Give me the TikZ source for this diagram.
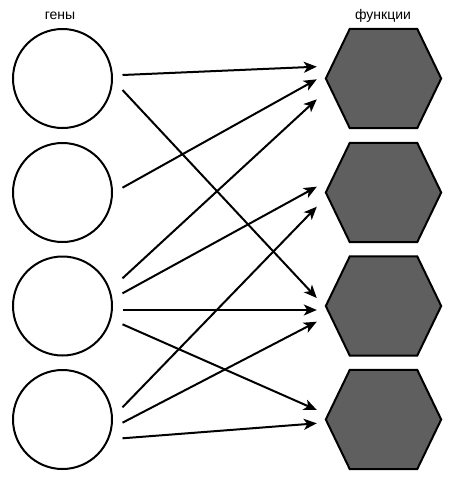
\documentclass[tikz,border=0pt]{standalone}
\usepackage{fontspec}
\setmainfont{Liberation Sans}
\usetikzlibrary{arrows.meta}
\definecolor{hexgray}{HTML}{5F5F5F}
\tikzset{
  gene/.style={circle, draw=black, line width=2pt, minimum size=99pt, inner sep=0pt, fill=white},
  hexbox/.style={rectangle, minimum width=115pt, minimum height=99pt, inner sep=0pt},
  hexshape/.style={draw=black, fill=hexgray, line width=2pt, line join=miter},
  conn/.style={line width=2pt, -{Stealth[length=13pt,width=11pt,inset=3.5pt]}},
  lbl/.style={font=\fontsize{14}{16}\selectfont, anchor=base, inner sep=0pt}
}
\begin{document}
\begin{tikzpicture}[x=1pt,y=-1pt]
\useasboundingbox (0,0) rectangle (450,480);
\node[lbl] (tg) at (60,19) {гены};
\node[lbl] (tf) at (383,19) {функции};
\node[gene] (g1) at (62.5,78.5) {};
\node[gene] (g2) at (62.5,192.5) {};
\node[gene] (g3) at (62.5,306) {};
\node[gene] (g4) at (62.5,419.5) {};
\node[hexbox] (h1) at (383.5,78.5) {};
\node[hexbox] (h2) at (383.5,192.5) {};
\node[hexbox] (h3) at (383.5,306) {};
\node[hexbox] (h4) at (383.5,419.5) {};
\foreach \h in {h1,h2,h3,h4}{
  \draw[hexshape] (\h.west) -- ([xshift=24pt]\h.north west) -- ([xshift=-24pt]\h.north east)
    -- (\h.east) -- ([xshift=-24pt]\h.south east) -- ([xshift=24pt]\h.south west) -- cycle;
}
\foreach \a/\da/\b/\db in {g1/-3.5/h1/-11.8, g1/11.5/h3/-8, g2/-4.8/h1/0.8, g3/-27.7/h1/20.8,
  g3/-12.7/h2/-5.8, g3/4/h3/4, g3/18.3/h4/-9.5, g4/-12.2/h2/14.2, g4/3.2/h3/15.7, g4/18.8/h4/3.8}{
  \draw[conn] ([shift={(9.5,\da)}]\a.east) -- ([shift={(-9,\db)}]\b.west);
}
\end{tikzpicture}
\end{document}
